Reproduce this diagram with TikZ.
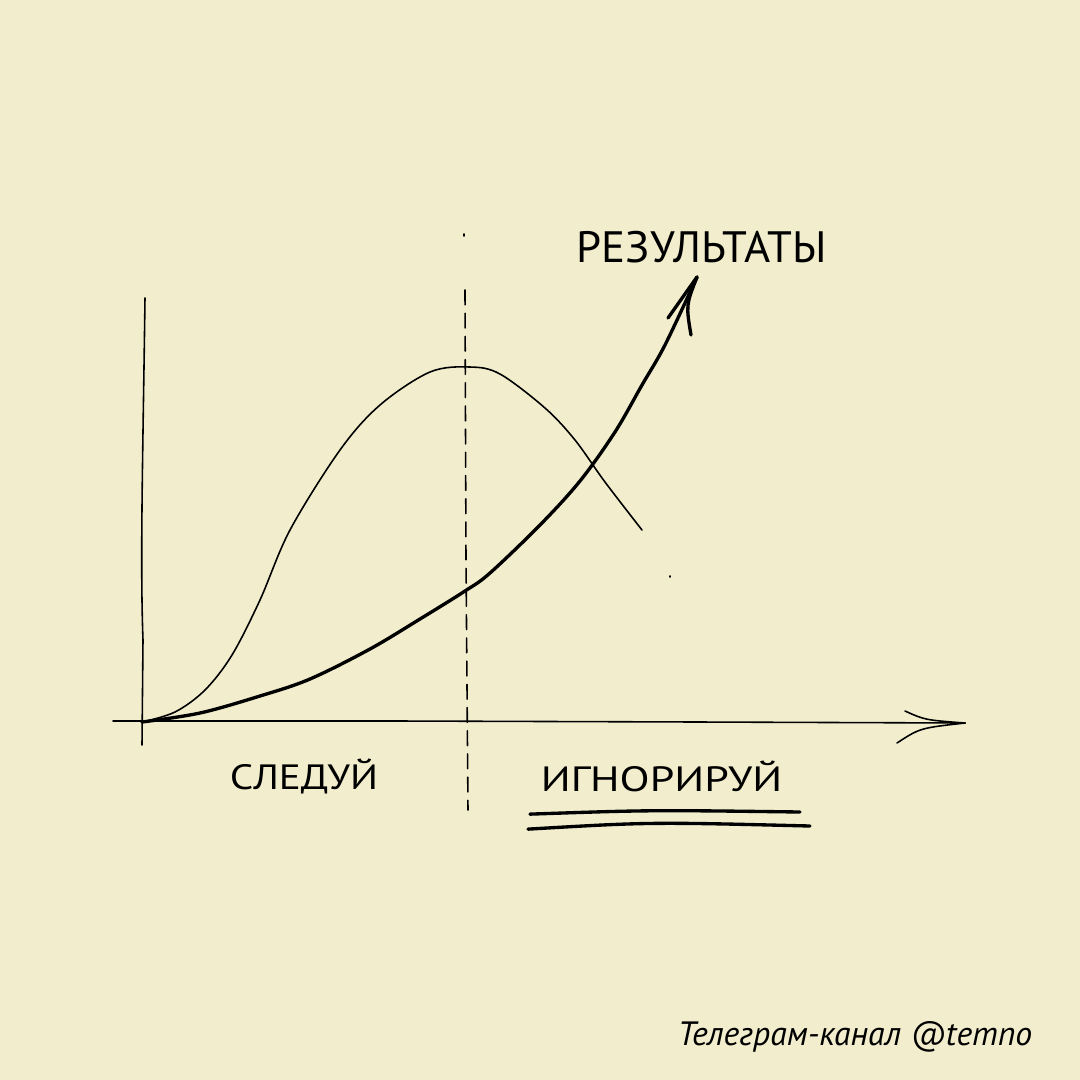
\documentclass[tikz,border=0pt]{standalone}
\usepackage{fontspec}
\setmainfont{PT Sans}
\newfontfamily\hand{PT Sans}
\usetikzlibrary{calc}
\definecolor{paper}{HTML}{F2EDCC}
\tikzset{pen/.style={line width=.45pt,line cap=round,line join=round},fat/.style={line width=.95pt,line cap=round,line join=round},lbl/.style={inner sep=0pt,font=\hand}}

\begin{document}
\begin{tikzpicture}[x=.1mm,y=-.1mm]
\fill[paper](0,0)rectangle(1080,1080);
\coordinate(o)at(142,722);\coordinate(ytop)at(145,298);\coordinate(ybot)at(142,745);\coordinate(xl)at(113,721);\coordinate(xr)at(965,723);
\draw[pen](ytop)..controls(143,450)and(140,560)..(143,640)--(ybot);
\draw[pen](xl)--(400,721)--(700,722)--(xr);\draw[pen](905,711)..controls(925,720)..(xr);\draw[pen](897,743)..controls(920,728)..(xr);
\draw[pen](464,234)--(464,236);\draw[pen,dash pattern=on 4.2pt off 2.4pt](465,290)--(466,560)--(468,810);
\draw[pen](670,576)--(670,577);
%% bell
\draw[pen]plot[smooth,tension=.55]coordinates{(o)(175,712)(205,690)(232,655)(260,600)(290,530)(340,450)(380,405)(430,372)(470,367)(500,374)(545,408)(575,440)(605,482)(642,530)};
%% growth
\coordinate(tip)at(697,277);
\draw[fat]plot[smooth,tension=.55]coordinates{(o)(200,713)(260,696)(310,679)(370,649)(420,619)(465,591)(490,573)(540,525)(580,481)(615,432)(642,385)(665,345)(tip)};
\draw[fat](668,318)--(tip);\draw[fat](691,335)..controls(686,305)..(tip);
%% labels
\node[lbl,font=\hand\fontsize{12.5}{14}\selectfont,anchor=base west,xscale=1.02](res)at(576,262){РЕЗУЛЬТАТЫ};
\node[lbl,font=\hand\fontsize{10}{12}\selectfont,anchor=base west,xscale=1.17](fol)at(229,789){СЛЕДУЙ};
\node[lbl,font=\hand\fontsize{10}{12}\selectfont,anchor=base west,xscale=1.25](ign)at(540,791){ИГНОРИРУЙ};
\draw[fat]($(ign.south west)+(-10,22)$)..controls(650,810)..(800,812);\draw[fat]($(ign.south west)+(-12,37)$)..controls(650,822)..(810,826);
\node[lbl,font=\itshape\fontsize{9.6}{12}\selectfont,anchor=base east](tg)at(1033,1045){Телеграм-канал @temno};
\end{tikzpicture}
\end{document}
